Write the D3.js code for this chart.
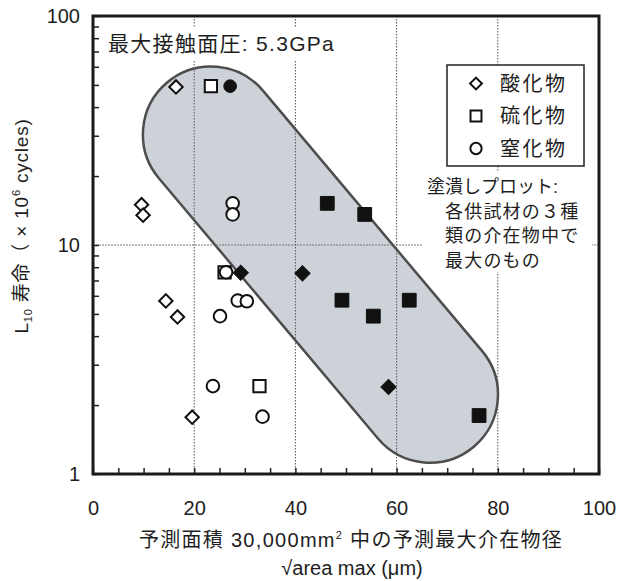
<!DOCTYPE html>
<html><head><meta charset="utf-8">
<script src="https://cdn.jsdelivr.net/npm/d3@7"></script>
<style>
body{margin:0;background:#fff;}
text{font-family:"Liberation Sans","Noto Sans CJK JP",sans-serif;fill:#1e1e1e;}
</style></head>
<body><svg id="c" width="622" height="581"></svg>
<script>
// ---- data ----
const oxideOpen   = [[16.4,49],[9.6,15.0],[9.9,13.5],[14.4,5.7],[16.7,4.85],[19.6,1.77]];
const sulfideOpen = [[23.3,49.4],[26.0,7.6],[32.9,2.42]];
const nitrideOpen = [[27.6,15.2],[27.6,13.6],[26.3,7.6],[28.6,5.72],[30.4,5.68],[25.1,4.89],[23.7,2.42],[33.5,1.78]];
const oxideFilled   = [[29.2,7.56],[41.4,7.52],[58.4,2.40]];
const sulfideFilled = [[46.3,15.2],[53.7,13.6],[49.2,5.74],[55.4,4.89],[62.5,5.74],[76.3,1.80]];
const nitrideFilled = [[27.1,49.4]];
const capsuleEnds = [[23.3,30.4],[66.6,2.22]];
const xTicks = [0,20,40,60,80,100];
const yTicks = [1,10,100];
const legendLabels = ["酸化物","硫化物","窒化物"];
const noteLines = ["塗潰しプロット:","各供試材の３種","類の介在物中で","最大のもの"];

const svg = d3.select("#c");
const L=93,R=599,T=16,B=474;
const x = d3.scaleLinear().domain([0,100]).range([L,R]);
const y = d3.scaleLog().domain([1,100]).range([B,T]);

// capsule
const [p1,p2] = capsuleEnds.map(d=>[x(d[0]),y(d[1])]);
const r = 68;
const dx=p2[0]-p1[0], dy=p2[1]-p1[1], len=Math.hypot(dx,dy);
const nx=-dy/len*r, ny=dx/len*r;
const cap = `M${p1[0]+nx},${p1[1]+ny} L${p2[0]+nx},${p2[1]+ny} A${r},${r} 0 0 0 ${p2[0]-nx},${p2[1]-ny} L${p1[0]-nx},${p1[1]-ny} A${r},${r} 0 0 0 ${p1[0]+nx},${p1[1]+ny} Z`;
svg.append("path").attr("d",cap).attr("fill","#cdd1d8").attr("stroke","#4d4d4d").attr("stroke-width",2.5);

// grid
const g = svg.append("g");
[20,40,60,80].forEach(v=>g.append("line").attr("x1",x(v)).attr("x2",x(v)).attr("y1",T).attr("y2",B)
  .attr("stroke","#555").attr("stroke-width",1).attr("stroke-dasharray","1.5,1.5"));
g.append("line").attr("x1",L).attr("x2",R).attr("y1",y(10)).attr("y2",y(10))
  .attr("stroke","#777").attr("stroke-width",1.2).attr("stroke-dasharray","2,1");

// white boxes behind texts
svg.append("rect").attr("x",104).attr("y",28).attr("width",232).attr("height",32).attr("fill","#fff");
svg.append("rect").attr("x",422).attr("y",172).attr("width",170).attr("height",100).attr("fill","#fff");

// title
svg.append("text").attr("x",108).attr("y",51).attr("font-size",21).attr("letter-spacing",1.3).text("最大接触面圧: 5.3GPa");

// note
noteLines.forEach((t,i)=>svg.append("text").attr("x",i===0?427:445).attr("y",193+i*24.7)
  .attr("font-size",18).attr("letter-spacing",i===0?0:1.2).text(t));

// legend
svg.append("rect").attr("x",447).attr("y",65).attr("width",137).attr("height",101)
  .attr("fill","#fff").attr("stroke","#222").attr("stroke-width",1.5);
const legendSyms=[d3.symbolSquare,d3.symbolSquare,d3.symbolCircle];
legendLabels.forEach((t,i)=>{
  const yy=83.5+i*32.5;
  svg.append("path").attr("d",d3.symbol(legendSyms[i], i===0?70:i===1?120:100)())
    .attr("transform",`translate(476,${yy})`+(i===0?" rotate(45)":""))
    .attr("fill","#fff").attr("stroke","#111").attr("stroke-width",2);
  svg.append("text").attr("x",500).attr("y",yy+7).attr("font-size",20).attr("letter-spacing",2.5).text(t);
});

// axes
const xa = d3.axisBottom(x).tickValues(d3.range(0,101,5)).tickSize(-6).tickPadding(27)
  .tickFormat(d=>xTicks.includes(d)?d:"");
const gx = svg.append("g").attr("transform",`translate(0,${B})`).call(xa);
const yMinor=[];for(let e=0;e<2;e++)for(let k=2;k<=9;k++)yMinor.push(k*Math.pow(10,e));
const ya = d3.axisLeft(y).tickValues(yMinor.concat(yTicks)).tickSize(-6).tickPadding(13)
  .tickFormat(d=>yTicks.includes(d)?d:"");
const gy = svg.append("g").attr("transform",`translate(${L},0)`).call(ya);
[gx,gy].forEach(a=>{a.select(".domain").remove();
  a.selectAll(".tick line").attr("stroke","#222").attr("stroke-width",1.5);
  a.selectAll("text").attr("font-size",20).attr("font-family","Liberation Sans,Arial,sans-serif").attr("fill","#1e1e1e");});

// points
function pts(data,type,filled){
  const size = type==="d"?(filled?115:90):type==="s"?(filled?190:150):125;
  const sym = type==="c"?d3.symbolCircle:d3.symbolSquare;
  svg.append("g").selectAll("path").data(data).join("path")
    .attr("d",d3.symbol(sym,size)())
    .attr("transform",d=>`translate(${x(d[0])},${y(d[1])})`+(type==="d"?" rotate(45)":""))
    .attr("fill",filled?"#111":"#fff").attr("stroke","#111").attr("stroke-width",filled?1:2);
}
pts(oxideOpen,"d",false);
pts(sulfideOpen,"s",false);
pts(nitrideOpen,"c",false);
pts(oxideFilled,"d",true);
pts(sulfideFilled,"s",true);
pts(nitrideFilled,"c",true);

// frame
svg.append("rect").attr("x",L).attr("y",T).attr("width",R-L).attr("height",B-T)
  .attr("fill","none").attr("stroke","#1a1a1a").attr("stroke-width",3);

// axis titles
const yl = svg.append("text").attr("transform","translate(28,226) rotate(-90)").attr("text-anchor","middle").attr("font-size",19).attr("letter-spacing",0.8);
yl.append("tspan").text("L");
yl.append("tspan").attr("font-size",11).attr("dy",4).text("10");
yl.append("tspan").attr("dy",-4).text(" 寿命（ × 10");
yl.append("tspan").attr("font-size",11).attr("dy",-8).text("6");
yl.append("tspan").attr("dy",8).text(" cycles)");

const xl = svg.append("text").attr("x",351).attr("y",547).attr("text-anchor","middle").attr("font-size",20).attr("letter-spacing",1.3);
xl.append("tspan").text("予測面積 30,000mm");
xl.append("tspan").attr("font-size",11).attr("dy",-8).text("2");
xl.append("tspan").attr("dy",8).text(" 中の予測最大介在物径");
svg.append("text").attr("x",352).attr("y",575).attr("text-anchor","middle").attr("font-size",20).text("√area max (μm)");
</script></body></html>
